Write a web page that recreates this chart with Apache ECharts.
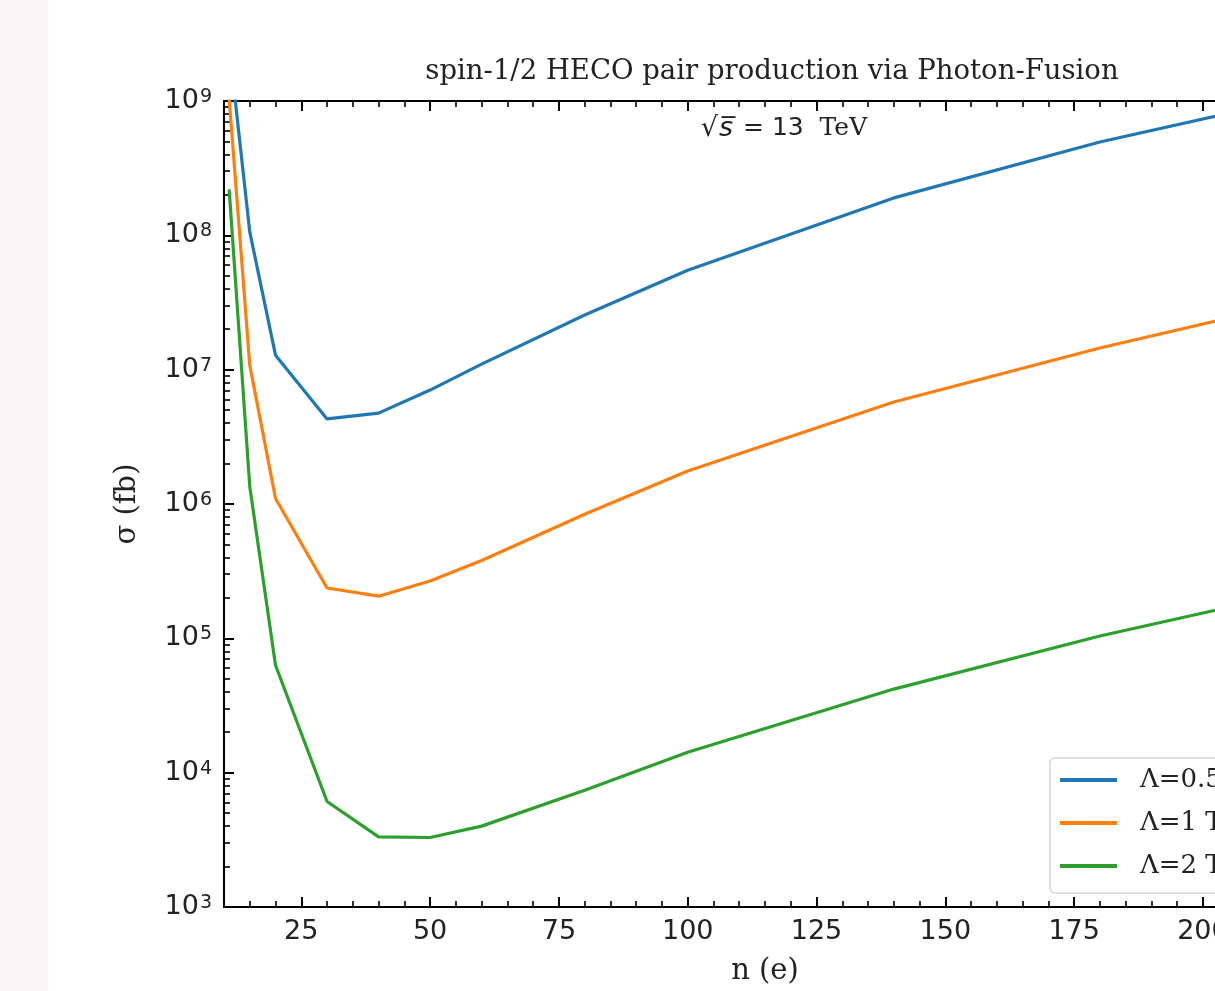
<!DOCTYPE html>
<html>
<head>
<meta charset="utf-8">
<script src="https://cdn.jsdelivr.net/npm/echarts@6/dist/echarts.min.js"></script>
<style>
  html, body { margin: 0; padding: 0; overflow: hidden; background: #ffffff; }
  #strip { position: absolute; left: 0; top: 0; width: 48px; height: 991px; background: #f8f6f7; }
  #chart { position: absolute; left: 0; top: 0; width: 1400px; height: 991px; }
</style>
</head>
<body>
<div id="chart"></div>
<div id="strip"></div>
<script>
// ---- data ----
const nValues = [11, 15, 20, 30, 40, 50, 60, 80, 100, 140, 180, 220];
const sigmaLam05 = [2.6e9, 1.06e8, 1.28e7, 4.3e6, 4.75e6, 7.05e6, 1.1e7, 2.55e7, 5.5e7, 1.9e8, 4.95e8, 1.09e9];
const sigmaLam1  = [1.05e9, 1.08e7, 1.1e6, 2.37e5, 2.06e5, 2.67e5, 3.8e5, 8.4e5, 1.76e6, 5.74e6, 1.45e7, 3.3e7];
const sigmaLam2  = [2.2e8, 1.35e6, 6.3e4, 6.1e3, 3.33e3, 3.29e3, 4.0e3, 7.4e3, 1.42e4, 4.19e4, 1.04e5, 2.29e5];
const seriesNames = ['\u039B=0.5 TeV', '\u039B=1 TeV', '\u039B=2 TeV'];
const xMajorTicks = [25, 50, 75, 100, 125, 150, 175, 200];
const xMinorTicks = [15, 20, 30, 35, 40, 45, 55, 60, 65, 70, 80, 85, 90, 95, 105, 110, 115, 120, 130, 135, 140, 145, 155, 160, 165, 170, 180, 185, 190, 195, 205, 210, 215];
const titleText = 'spin-1/2 HECO pair production via Photon-Fusion';
const xTitle = 'n (e)';
const yTitle = '\u03C3 (fb)';

const colors = ['#1f77b4', '#ff7f0e', '#2ca02c'];
const yMinorLog = [];
for (let d = 3; d < 9; d++) for (let k = 2; k <= 9; k++) yMinorLog.push(d + Math.log10(k));

function pairs(ys) { return nValues.map((x, i) => [x, ys[i]]); }

const serif = 'DejaVu Serif';
const sans = 'DejaVu Sans';
const tickLen = 10, minorLen = 6;

const chart = echarts.init(document.getElementById('chart'), null, { renderer: 'canvas' });
const grid = { left: 224, top: 101, right: 94, bottom: 84, containLabel: false };

function xAxisDef(pos, major, showLabel, showLine) {
  return {
    type: 'value', position: pos, min: 10, max: 220,
    axisLine: { show: showLine, onZero: false, lineStyle: { color: '#000', width: 2 } },
    axisTick: { show: true, inside: true, length: major ? tickLen : minorLen,
      customValues: major ? xMajorTicks : xMinorTicks,
      lineStyle: { color: '#000', width: major ? 2 : 1.6 } },
    axisLabel: { show: showLabel, customValues: xMajorTicks, color: '#222', fontFamily: sans, fontSize: 27, margin: 11 },
    splitLine: { show: false }
  };
}
function yMinorDef(pos) {
  return {
    type: 'value', position: pos, min: 3, max: 9,
    axisLine: { show: false, onZero: false },
    axisTick: { show: true, inside: true, length: minorLen, customValues: yMinorLog, lineStyle: { color: '#000', width: 1.6 } },
    axisLabel: { show: false }, splitLine: { show: false }
  };
}
function yMajorDef(pos, showLabel) {
  return {
    type: 'log', logBase: 10, position: pos, min: 1e3, max: 1e9,
    axisLine: { show: true, onZero: false, lineStyle: { color: '#000', width: 2 } },
    axisTick: { show: true, inside: true, length: tickLen, lineStyle: { color: '#000', width: 2 } },
    axisLabel: {
      show: showLabel, margin: 12,
      formatter: v => '{b|10}{s|' + Math.round(Math.log10(v)) + '}',
      rich: {
        b: { fontFamily: sans, fontSize: 27, color: '#222', verticalAlign: 'bottom', lineHeight: 27 },
        s: { fontFamily: sans, fontSize: 19, color: '#222', verticalAlign: 'top', lineHeight: 27, padding: [0, 0, 12, 1] }
      }
    },
    splitLine: { show: false },
    name: showLabel ? yTitle : '', nameLocation: 'middle', nameGap: 82,
    nameTextStyle: { fontFamily: serif, fontSize: 29, color: '#222' }
  };
}

const xAxes = [xAxisDef('bottom', true, true, true), xAxisDef('bottom', false, false, false),
               xAxisDef('top', true, false, true), xAxisDef('top', false, false, false)];
xAxes[0].name = xTitle; xAxes[0].nameLocation = 'middle'; xAxes[0].nameGap = 50;
xAxes[0].nameTextStyle = { fontFamily: serif, fontSize: 29, color: '#222' };

chart.setOption({
  animation: false,
  backgroundColor: '#ffffff',
  color: colors,
  title: [
    { text: titleText, left: 767, top: 53, textAlign: 'center',
      textStyle: { fontFamily: serif, fontWeight: 'normal', fontSize: 27.5, color: '#222' } },
    { text: '{r|\u221A}{i|s\u0305}{e| = }{m|13}{n|  TeV}', left: 779, top: 110, textAlign: 'center',
      textStyle: { fontWeight: 'normal', rich: {
        r: { fontFamily: sans, fontWeight: 'normal', fontSize: 27, color: '#222' },
        i: { fontFamily: sans, fontWeight: 'normal', fontStyle: 'italic', fontSize: 27, color: '#222', padding: [0, 2, 0, 1] },
        e: { fontFamily: sans, fontWeight: 'normal', fontSize: 25, color: '#222' },
        m: { fontFamily: sans, fontWeight: 'normal', fontSize: 25, color: '#222' },
        n: { fontFamily: serif, fontWeight: 'normal', fontSize: 25, color: '#222' } } } }
  ],
  grid: grid,
  xAxis: xAxes,
  yAxis: [yMajorDef('left', true), yMinorDef('left'), yMajorDef('right', false), yMinorDef('right')],
  legend: {
    orient: 'vertical', left: 1050, top: 758,
    padding: [8, 10, 13, 10], itemGap: 15, itemWidth: 57, itemHeight: 4, icon: 'rect',
    backgroundColor: 'rgba(255,255,255,0.8)', borderColor: '#d6d6d6', borderWidth: 1.5, borderRadius: 5,
    textStyle: { fontFamily: serif, fontSize: 26, color: '#222', lineHeight: 28, padding: [0, 0, 0, 18] },
    data: seriesNames
  },
  series: [sigmaLam05, sigmaLam1, sigmaLam2].map((ys, i) => ({
    name: seriesNames[i], type: 'line', xAxisIndex: 0, yAxisIndex: 0,
    data: pairs(ys), symbol: 'none', showSymbol: false, clip: true,
    lineStyle: { width: 3.2, color: colors[i] }, itemStyle: { color: colors[i] }
  }))
});
</script>
</body>
</html>
